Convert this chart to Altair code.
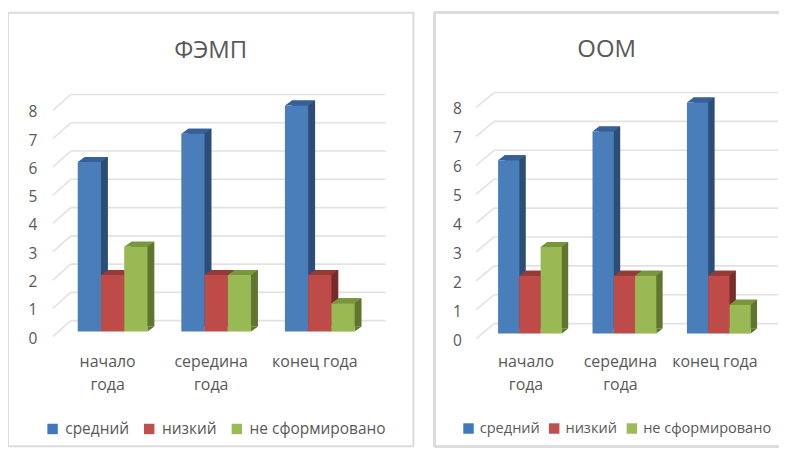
import altair as alt

categories = ["начало|года", "середина|года", "конец года"]
series = ["средний", "низкий", "не сформировано"]
fem_values = [6, 7, 8, 2, 2, 2, 3, 2, 1]
oom_values = [6, 7, 8, 2, 2, 2, 3, 2, 1]
y_ticks = [0, 1, 2, 3, 4, 5, 6, 7, 8]

front_colors = ["#4A7EBB", "#BE4B48", "#98B954"]
side_colors = ["#2C4D75", "#772C2A", "#5F7530"]
top_colors = ["#376099", "#963A38", "#78963C"]
legend_colors = ["#3F78BF", "#C0504D", "#9BBB59"]
TEXT = "#595959"
FONT = "Open Sans"
FRAME = "#DCDCDC"


def panel(title, values, w, h, x_range, pad_in, y_range, bar_w, dx, dy,
          grid_x, diag_x, back_dy, label_shift, axis_x, legend_x, column_padding,
          legend_size, label_gap, open_right):
    rows = []
    for c, cat in enumerate(categories):
        for s, name in enumerate(series):
            rows.append(dict(cat=cat, series=name, value=values[s * 3 + c],
                             zero=0, front=front_colors[s],
                             side=side_colors[s], top=top_colors[s]))
    data = alt.Data(values=rows)
    ticks = alt.Data(values=[dict(t=t) for t in y_ticks])

    y_scale = alt.Scale(domain=[0, 8], range=y_range, nice=False)
    x_scale = alt.Scale(domain=categories, range=x_range,
                        paddingInner=pad_in, paddingOuter=pad_in / 2)
    y_axis = alt.Axis(values=y_ticks, domain=False, ticks=False, grid=False,
                      labelColor=TEXT, labelFontSize=15.5, labelFont=FONT,
                      labelPadding=0, offset=-axis_x, labelOffset=6.5, format="d")
    x_axis = alt.Axis(domain=False, ticks=False, grid=False, labelAngle=0, labelAlign="center",
                      labelBaseline="middle", labelColor=TEXT, labelFontSize=16, labelFont=FONT,
                      labelExpr="split(datum.label, '|')", labelLineHeight=23,
                      labelOffset=label_shift, labelPadding=0, offset=-(h - 350),
                      labelBound=False, labelOverlap=False, labelLimit=200)
    x_plain = alt.X("cat:N", scale=x_scale, sort=categories, title=None, axis=x_axis)
    x_off = alt.XOffset("series:N", sort=series, title=None)
    y_val = alt.Y("value:Q", scale=y_scale, title=None, axis=y_axis)
    y_tick = alt.Y("t:Q", scale=y_scale, title=None, axis=y_axis)
    y_zero = alt.Y("zero:Q", scale=y_scale, title=None, axis=y_axis)

    grid = alt.Chart(ticks).mark_rule(color="#E2E2E2", strokeWidth=1.6, yOffset=back_dy).encode(
        y=y_tick, x=alt.value(grid_x[0]), x2=alt.value(grid_x[1]))
    diag = alt.Chart(ticks).mark_point(
        shape=f"M0 5 L{grid_x[0] - diag_x} {back_dy}", size=4, filled=False,
        stroke="#E2E2E2", strokeWidth=1.6, opacity=1
    ).encode(y=y_tick, x=alt.value(diag_x))

    side = alt.Chart(data).mark_bar(yOffset=-dy, y2Offset=-dy).encode(
        x=x_plain,
        xOffset=alt.XOffset("series:N", sort=series, title=None,
                            scale=alt.Scale(domain=series, range=[dx, bar_w * 3 + dx])),
        y=y_val, y2="zero:Q",
        color=alt.Color("side:N", scale=None))
    hb = bar_w / 2
    foot = alt.Chart(data).mark_point(
        shape=f"M{hb} 0 L{hb + dx} {-dy} L{hb} {-dy} Z", size=4, filled=True, opacity=1
    ).encode(x=x_plain, xOffset=x_off, y=y_zero,
             fill=alt.Fill("side:N", scale=None))
    top = alt.Chart(data).mark_point(
        shape=f"M{-hb} 0 L{hb} 0 L{hb + dx} {-dy} L{-hb + dx} {-dy} Z", size=4, filled=True, opacity=1
    ).encode(x=x_plain, xOffset=x_off, y=y_val,
             fill=alt.Fill("top:N", scale=None))
    front = alt.Chart(data).mark_bar(opacity=1).encode(
        x=x_plain, xOffset=x_off, y=y_val, y2="zero:Q",
        fill=alt.Fill("front:N", scale=None),
    )
    legend = alt.Chart(data).mark_point(shape="square", filled=True, opacity=0).encode(
        x=x_plain, y=y_val,
        color=alt.Color("series:N", scale=alt.Scale(domain=series, range=legend_colors),
                        legend=alt.Legend(orient="none", legendX=legend_x, legendY=410,
                                          direction="horizontal", columns=3, title=None, padding=0,
                                          symbolType="square", symbolSize=110, symbolOpacity=1,
                                          labelFontSize=legend_size, labelFont=FONT, labelColor=TEXT,
                                          columnPadding=column_padding, labelOffset=label_gap,
                                          gridAlign="none", labelLimit=200)))
    layers = [grid, diag, side, foot, top, front, legend]
    if open_right:
        edges = [
            alt.Chart(ticks).mark_rule(color=FRAME, strokeWidth=2).encode(
                x=alt.value(0), x2=alt.value(w), y=alt.value(0)),
            alt.Chart(ticks).mark_rule(color=FRAME, strokeWidth=2).encode(
                x=alt.value(0), y=alt.value(0), y2=alt.value(h)),
            alt.Chart(ticks).mark_rule(color=FRAME, strokeWidth=2).encode(
                x=alt.value(0), x2=alt.value(w), y=alt.value(h)),
        ]
        layers = edges + layers
    out = alt.layer(*layers).resolve_scale(xOffset="independent").properties(
        width=w, height=h,
        title=alt.TitleParams(title, fontSize=24, font=FONT, fontWeight="normal", color=TEXT,
                              anchor="middle", offset=-50))
    if open_right:
        out = out.properties(view=alt.ViewBackground(stroke="transparent"))
    return out


left = panel("ФЭМП", fem_values, 407, 435, [53, 365], 0.327, [320, 93], 23.3, 7, 5,
             [63, 379], 45, -11, -5, 29, 37, 12, 15.5, 5, False)
right = panel("ООМ", oom_values, 346, 435, [48.6, 333], 0.3245, [322, 90], 21.3, 6.5, 5,
              [60, 345], 42, -10, -4, 27, 27, 7, 14.6, 4, True)

chart = alt.hconcat(left, right, spacing=18).resolve_scale(
    color="independent", x="independent", y="independent"
).properties(padding=dict(left=-1, top=2, right=0, bottom=0), background="white").configure_view(
    stroke=FRAME, strokeWidth=2)

chart.save("out.html", embed_options={"renderer": "svg", "actions": False})
